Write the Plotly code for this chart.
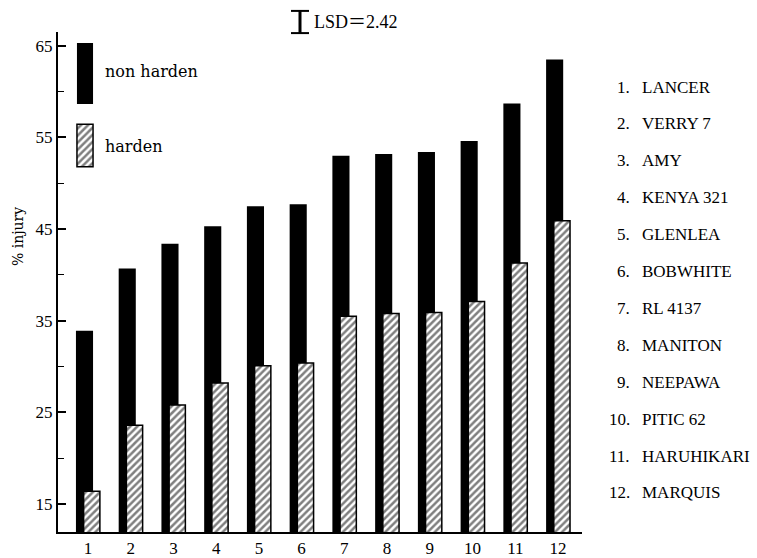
import plotly.graph_objects as go

# Cultivars (numbered along the x axis, named in the key on the right)
cultivar_no = list(range(1, 13))
cultivar_names = ["LANCER", "VERRY 7", "AMY", "KENYA 321", "GLENLEA", "BOBWHITE",
                  "RL 4137", "MANITON", "NEEPAWA", "PITIC 62", "HARUHIKARI", "MARQUIS"]

# % injury for non-hardened and hardened plants
non_harden = [33.9, 40.7, 43.4, 45.3, 47.5, 47.7, 53.0, 53.2, 53.4, 54.6, 58.7, 63.5]
harden = [16.4, 23.6, 25.8, 28.2, 30.1, 30.4, 35.5, 35.8, 35.9, 37.1, 41.3, 45.9]

y_ticks = [15, 25, 35, 45, 55, 65]
LSD = 2.42

W, H = 757, 558
ML, MR, MT, MB = 58, 175, 32, 26
PW, PH = W - ML - MR, H - MT - MB
Y_RANGE = [11.95, 66.5]
X_RANGE = [0.3, 12.56]

SERIF = "Liberation Serif, Times New Roman, serif"
WIDE_SERIF = "DejaVu Serif, serif"

HATCH = dict(shape="/", fgcolor="black", bgcolor="white", size=5, solidity=0.5)


def px_x(p):
    """pixel column -> paper x"""
    return (p - ML) / PW


def px_y(p):
    """pixel row -> paper y"""
    return (H - MB - p) / PH


fig = go.Figure()

fig.add_trace(go.Bar(
    x=cultivar_no, y=non_harden, name="non harden",
    marker=dict(color="black", line=dict(width=0)),
    width=0.4, offset=-0.28, showlegend=False,
))
fig.add_trace(go.Bar(
    x=cultivar_no, y=harden, name="harden",
    marker=dict(color="white", pattern=HATCH, line=dict(color="black", width=1.5)),
    width=0.38, offset=-0.1, showlegend=False,
))

# key swatches drawn as single bars on small hidden axes
fig.add_trace(go.Bar(x=[0], y=[1], width=1, xaxis="x2", yaxis="y2",
                     marker=dict(color="black", line=dict(width=0)),
                     showlegend=False, hoverinfo="skip"))
fig.add_trace(go.Bar(x=[0], y=[1], width=1, xaxis="x3", yaxis="y3",
                     marker=dict(color="white", pattern=HATCH,
                                 line=dict(color="black", width=1.5)),
                     showlegend=False, hoverinfo="skip"))

hidden = dict(visible=False, fixedrange=True, automargin=False)
fig.update_layout(
    xaxis2=dict(domain=[px_x(76), px_x(94)], range=[-0.56, 0.56], anchor="y2", **hidden),
    yaxis2=dict(domain=[px_y(104), px_y(43)], range=[0, 1.0], anchor="x2", **hidden),
    xaxis3=dict(domain=[px_x(76), px_x(94)], range=[-0.56, 0.56], anchor="y3", **hidden),
    yaxis3=dict(domain=[px_y(168), px_y(123)], range=[-0.03, 1.03], anchor="x3", **hidden),
)

annotations = [
    dict(x=px_x(103), y=px_y(72), text="non harden"),
    dict(x=px_x(103), y=px_y(146), text="harden"),
]
annotations = [dict(a, xref="paper", yref="paper", xanchor="left", yanchor="middle",
                    showarrow=False, font=dict(family=WIDE_SERIF, size=16, color="black"))
               for a in annotations]

# y-axis title
annotations.append(dict(x=px_x(18), y=px_y(237), xref="paper", yref="paper",
                        text="% injury", textangle=-90, xanchor="center", yanchor="middle",
                        showarrow=False,
                        font=dict(family=WIDE_SERIF, size=14, color="black")))

# numbered key of cultivar names
row0, row_step = 87, 36.9
for i, (n, name) in enumerate(zip(cultivar_no, cultivar_names)):
    yy = px_y(row0 + i * row_step)
    annotations.append(dict(x=px_x(632), y=yy, xref="paper", yref="paper",
                            text=f"{n}.", xanchor="right", yanchor="middle",
                            showarrow=False,
                            font=dict(family=SERIF, size=17, color="black")))
    annotations.append(dict(x=px_x(640), y=yy, xref="paper", yref="paper",
                            text=name, xanchor="left", yanchor="middle",
                            showarrow=False,
                            font=dict(family=SERIF, size=17, color="black")))

# LSD bar: length equals LSD in y-axis units
lsd_h = LSD / (Y_RANGE[1] - Y_RANGE[0])
lsd_c = px_y(22)
lsd_x = px_x(300)
cap = 9 / PW
shapes = [
    dict(type="line", xref="paper", yref="paper", x0=lsd_x, x1=lsd_x,
         y0=lsd_c - lsd_h / 2, y1=lsd_c + lsd_h / 2, line=dict(color="black", width=3)),
    dict(type="line", xref="paper", yref="paper", x0=lsd_x - cap, x1=lsd_x + cap,
         y0=lsd_c - lsd_h / 2, y1=lsd_c - lsd_h / 2, line=dict(color="black", width=2)),
    dict(type="line", xref="paper", yref="paper", x0=lsd_x - cap, x1=lsd_x + cap,
         y0=lsd_c + lsd_h / 2, y1=lsd_c + lsd_h / 2, line=dict(color="black", width=2)),
]
annotations.append(dict(x=px_x(312), y=lsd_c, xref="paper", yref="paper",
                        text=f"LSD\uff1d{LSD:.2f}", xanchor="left", yanchor="middle",
                        showarrow=False,
                        font=dict(family=SERIF + ", Noto Sans CJK JP", size=18, color="black")))

fig.update_layout(
    width=W, height=H, autosize=False,
    margin=dict(l=ML, r=MR, t=MT, b=MB, pad=0, autoexpand=False),
    paper_bgcolor="white", plot_bgcolor="white",
    barmode="overlay",
    font=dict(family=SERIF, size=17, color="black"),
    xaxis=dict(range=X_RANGE, tickvals=cultivar_no, ticktext=[str(n) for n in cultivar_no],
               ticks="", showline=True, linecolor="black", linewidth=2,
               showgrid=False, zeroline=False, automargin=False,
               tickfont=dict(family=SERIF, size=17, color="black"),
               fixedrange=True),
    yaxis=dict(range=Y_RANGE, tickvals=y_ticks, ticks="inside", ticklen=8, tickwidth=1.5,
               tickcolor="black", showline=True, linecolor="black", linewidth=2,
               showgrid=False, zeroline=False, automargin=False,
               tickfont=dict(family=SERIF, size=17, color="black"),
               minor=dict(tickvals=[t + 5 for t in y_ticks[:-1]], ticks="inside",
                          ticklen=6, tickwidth=1.2, tickcolor="black", showgrid=False),
               fixedrange=True),
    annotations=annotations,
    shapes=shapes,
)

fig.write_html("out.html")
